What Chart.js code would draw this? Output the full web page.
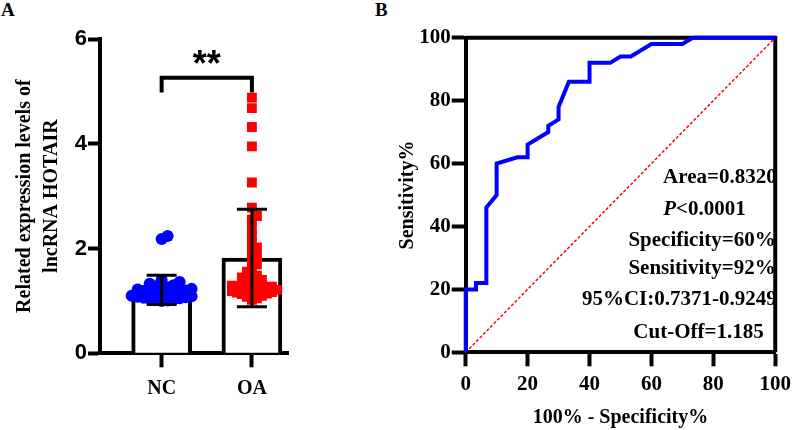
<!DOCTYPE html>
<html lang="en">
<head>
  <meta charset="UTF-8">
  <title>lncRNA HOTAIR expression and ROC</title>
  <script src="https://cdn.jsdelivr.net/npm/chart.js"></script>
  <style>
    body { margin: 0; background: #fff; width: 797px; height: 430px; position: relative; overflow: hidden; }
    .panel { position: absolute; top: 0; }
    .tag { position: absolute; top: -1px; font: bold 19px "Liberation Serif", serif; color: #000; }
  </style>
</head>
<body>
  <div class="tag" style="left:1px">A</div>
  <div class="tag" style="left:375px">B</div>
  <div class="panel" style="left:0"><canvas id="chartA" width="300" height="430"></canvas></div>
  <div class="panel" style="left:385px"><canvas id="chartB" width="412" height="430"></canvas></div>
  <script>
    // ---- panel A data ----
    const groups = ['NC', 'OA'];
    const groupMean = [1.21, 1.82];
    const groupSD = [0.28, 0.93];
    const ncValues = [2.24, 2.18, 1.40, 1.36, 1.33, 1.30, 1.28, 1.26, 1.25, 1.23,
      1.22, 1.20, 1.19, 1.18, 1.16, 1.15, 1.14, 1.13, 1.12, 1.10,
      1.09, 1.08, 1.07, 1.06, 1.05, 1.04, 1.03, 1.02, 1.01, 1.00];
    const oaValues = [4.88, 4.68, 4.32, 3.95, 3.26, 2.78, 2.62, 2.55, 2.38, 2.25,
      2.12, 2.02, 1.95, 1.86, 1.78, 1.70, 1.62, 1.56, 1.52, 1.48,
      1.45, 1.42, 1.40, 1.38, 1.36, 1.34, 1.32, 1.30, 1.29, 1.28,
      1.27, 1.26, 1.25, 1.24, 1.23, 1.22, 1.21, 1.20, 1.19, 1.18,
      1.17, 1.16, 1.15, 1.14, 1.13, 1.12, 1.10, 1.08, 1.05, 1.02];
    const yTicksA = [0, 2, 4, 6];
    const sigLabel = '**';

    // ---- panel B data ----
    const rocX = [0, 0, 3.33, 3.33, 6.67, 6.67, 10, 10, 16.67, 20, 20, 26.67, 26.67, 30, 30,
      33.33, 40, 40, 46.67, 50, 53.33, 60, 70, 73.33, 100];
    const rocY = [0, 20, 20, 22, 22, 46, 50, 60, 62, 62, 66, 70, 72, 74, 78,
      86, 86, 92, 92, 94, 94, 98, 98, 100, 100];
    const refX = [0, 100];
    const refY = [0, 100];
    const statLines = ['Area=0.8320', 'P<0.0001', 'Specificity=60%', 'Sensitivity=92%',
      '95%CI:0.7371-0.9249', 'Cut-Off=1.185'];

    const serifB = '"Liberation Serif", "Times New Roman", serif';
    const sansB = '"Liberation Sans", Arial, sans-serif';

    // simple beeswarm so points of similar value sit side by side (overlap allowed)
    function swarm(values, center, gap) {
      const pxX = 90.3, pxY = 52.3; // rough pixels per unit on panel A
      const placed = [];
      return values.slice().sort((a, b) => a - b).map(v => {
        const yp = v * pxY;
        for (let k = 0; k < 80; k++) {
          const off = (k % 2 ? 1 : -1) * Math.ceil(k / 2) * gap * 0.5;
          const free = placed.every(p => Math.abs(p[0] - off) >= gap || Math.abs(p[1] - yp) >= gap);
          if (free) { placed.push([off, yp]); return { x: center + off / pxX, y: v }; }
        }
        return { x: center, y: v };
      });
    }

    const extrasA = {
      id: 'extrasA',
      afterDatasetsDraw(chart) {
        const ctx = chart.ctx, xs = chart.scales.x, ys = chart.scales.y;
        ctx.save();
        ctx.strokeStyle = '#000';
        ctx.lineWidth = 3;
        groups.forEach((g, i) => {
          const x = xs.getPixelForValue(i + 1);
          const hi = ys.getPixelForValue(groupMean[i] + groupSD[i]);
          const lo = ys.getPixelForValue(groupMean[i] - groupSD[i]);
          ctx.beginPath();
          ctx.moveTo(x, hi); ctx.lineTo(x, lo);
          ctx.moveTo(x - 15, hi); ctx.lineTo(x + 15, hi);
          ctx.moveTo(x - 15, lo); ctx.lineTo(x + 15, lo);
          ctx.stroke();
        });
        // significance bracket
        const x1 = xs.getPixelForValue(1), x2 = xs.getPixelForValue(2);
        const yTop = ys.getPixelForValue(5.26), yEnd = ys.getPixelForValue(4.98);
        ctx.lineWidth = 4;
        ctx.beginPath();
        ctx.moveTo(x1, yEnd); ctx.lineTo(x1, yTop); ctx.lineTo(x2, yTop); ctx.lineTo(x2, yEnd);
        ctx.stroke();
        ctx.fillStyle = '#000';
        ctx.font = 'bold 36px ' + sansB;
        ctx.textAlign = 'center';
        ctx.textBaseline = 'middle';
        ctx.fillText(sigLabel, (x1 + x2) / 2, yTop - 12);
        ctx.restore();
      }
    };

    new Chart(document.getElementById('chartA'), {
      type: 'bar',
      data: {
        datasets: [
          {
            type: 'bar',
            data: groupMean.map((m, i) => ({ x: i + 1, y: m })),
            backgroundColor: '#fff',
            borderColor: '#000',
            borderWidth: 4,
            barThickness: 60,
            order: 2
          },
          {
            type: 'scatter',
            data: swarm(ncValues, 1, 6),
            pointStyle: 'circle',
            pointRadius: 6,
            backgroundColor: '#0000ff',
            borderWidth: 0,
            order: 1
          },
          {
            type: 'scatter',
            data: swarm(oaValues, 2, 5),
            pointStyle: 'rect',
            pointRadius: 7,
            backgroundColor: '#ff0000',
            borderWidth: 0,
            order: 1
          }
        ]
      },
      options: {
        responsive: false,
        animation: false,
        layout: { padding: { top: 39, right: 12, left: 0, bottom: 0 } },
        plugins: { legend: { display: false }, tooltip: { enabled: false } },
        scales: {
          x: {
            type: 'linear',
            min: 0.317, max: 2.4,
            offset: false,
            grid: { offset: false, drawOnChartArea: false, drawTicks: true, tickLength: 14, tickWidth: 4, tickColor: '#000' },
            border: { display: true, width: 4, color: '#000' },
            afterBuildTicks: s => { s.ticks = groups.map((g, i) => ({ value: i + 1 })); },
            afterFit: s => { s.height = 76.7; },
            ticks: {
              color: '#000', padding: 10,
              font: { family: serifB, weight: 'bold', size: 20 },
              callback: v => groups[v - 1]
            }
          },
          y: {
            min: 0, max: 6,
            grid: { drawOnChartArea: false, drawTicks: true, tickLength: 12, tickWidth: 4, tickColor: '#000' },
            border: { display: true, width: 4, color: '#000' },
            afterBuildTicks: s => { s.ticks = yTicksA.map(v => ({ value: v })); },
            afterFit: s => { s.width = 100; },
            ticks: { color: '#000', padding: 1, font: { family: sansB, weight: 'bold', size: 22 } },
            title: {
              display: true,
              text: ['Related expression levels of', 'lncRNA HOTAIR'],
              color: '#000',
              font: { family: serifB, weight: 'bold', size: 20, lineHeight: 1.35 },
              padding: { top: 11, bottom: 0 }
            }
          }
        }
      },
      plugins: [extrasA]
    });

    const extrasB = {
      id: 'extrasB',
      beforeDatasetsDraw(chart) {
        const ctx = chart.ctx, a = chart.chartArea;
        ctx.save();
        ctx.strokeStyle = '#000';
        ctx.lineWidth = 4;
        ctx.beginPath();
        ctx.moveTo(a.left, a.top); ctx.lineTo(a.right, a.top); ctx.lineTo(a.right, a.bottom);
        ctx.stroke();
        ctx.restore();
      },
      afterDraw(chart) {
        const ctx = chart.ctx, a = chart.chartArea;
        // right edge of each stats line, relative to the plot area
        const anchors = [311, 280, 310, 310, 311, 298];
        const rows = [140, 172, 203, 231, 262, 295];
        ctx.save();
        ctx.fillStyle = '#000';
        ctx.textBaseline = 'middle';
        ctx.textAlign = 'right';
        statLines.forEach((t, i) => {
          const x = a.left + anchors[i], y = a.top + rows[i];
          if (t.startsWith('P')) {
            ctx.font = 'bold 21px ' + serifB;
            const rest = t.slice(1);
            const w = ctx.measureText(rest).width;
            ctx.fillText(rest, x, y);
            ctx.font = 'italic bold 21px ' + serifB;
            ctx.fillText('P', x - w, y);
          } else {
            ctx.font = 'bold 21px ' + serifB;
            ctx.fillText(t, x, y);
          }
        });
        ctx.restore();
      }
    };

    new Chart(document.getElementById('chartB'), {
      type: 'line',
      data: {
        datasets: [
          {
            data: rocX.map((x, i) => ({ x: x, y: rocY[i] })),
            borderColor: '#0000ff',
            borderWidth: 4,
            pointRadius: 0,
            tension: 0,
            clip: false,
            order: 1
          },
          {
            data: refX.map((x, i) => ({ x: x, y: refY[i] })),
            borderColor: '#ff0000',
            borderWidth: 1.5,
            borderDash: [3, 2],
            pointRadius: 0,
            clip: false,
            order: 2
          }
        ]
      },
      options: {
        responsive: false,
        animation: false,
        layout: { padding: { top: 37.7, right: 16, left: 0, bottom: 0 } },
        plugins: { legend: { display: false }, tooltip: { enabled: false } },
        scales: {
          x: {
            type: 'linear', min: 0, max: 100,
            grid: { drawOnChartArea: false, drawTicks: true, tickLength: 14, tickWidth: 4, tickColor: '#000' },
            border: { display: true, width: 4, color: '#000' },
            afterFit: s => { s.height = 77.7; },
            ticks: { stepSize: 20, color: '#000', padding: 6, font: { family: serifB, weight: 'bold', size: 21 } },
            title: {
              display: true, text: '100% - Specificity%', color: '#000',
              font: { family: serifB, weight: 'bold', size: 20 },
              padding: { top: 0, bottom: 0 }
            }
          },
          y: {
            min: 0, max: 100,
            grid: { drawOnChartArea: false, drawTicks: true, tickLength: 14, tickWidth: 4, tickColor: '#000' },
            border: { display: true, width: 4, color: '#000' },
            afterFit: s => { s.width = 80.7; },
            ticks: { stepSize: 20, color: '#000', padding: 1, font: { family: serifB, weight: 'bold', size: 21 } },
            title: {
              display: true, text: 'Sensitivity%', color: '#000',
              font: { family: serifB, weight: 'bold', size: 20 },
              padding: { top: 11, bottom: 0 }
            }
          }
        }
      },
      plugins: [extrasB]
    });
  </script>
</body>
</html>
